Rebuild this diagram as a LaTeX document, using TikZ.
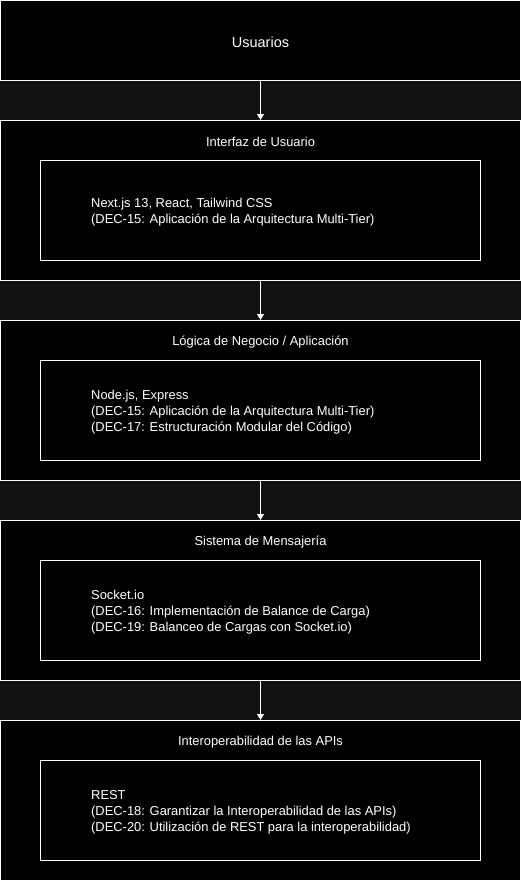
\documentclass[tikz,border=0pt]{standalone}
\usepackage{fontspec}
\setmainfont{Liberation Sans}
\usetikzlibrary{arrows.meta}
\definecolor{fundo}{HTML}{121212}

\begin{document}
\begin{tikzpicture}[x=1pt, y=-1pt,
  camada/.style={draw=white, fill=black, line width=1pt, minimum width=520pt, inner sep=0pt},
  caixa/.style={draw=white, fill=black, line width=1pt, minimum width=440pt, minimum height=100pt, inner sep=0pt},
  titulo/.style={text=white, inner sep=0pt, font=\fontsize{12.9}{16}\selectfont},
  texto/.style={text=white, inner sep=0pt, anchor=west, align=left, font=\fontsize{12.9}{16}\selectfont},
  seta/.style={draw=white, line width=1pt, -{Triangle[width=7pt,length=6pt]}}]
  \fill[fundo] (0,0) rectangle (521,881);
  \useasboundingbox (0,0) rectangle (521,881);
  % camadas
  \node[camada, minimum height=80pt] (usr) at (260.5,40.5) {};
  \node[titulo, font=\fontsize{14.5}{16}\selectfont] (usrt) at (260.5,42) {Usuarios};
  \node[camada, minimum height=160pt] (ui) at (260.5,200.5) {};
  \node[camada, minimum height=160pt] (neg) at (260.5,400.5) {};
  \node[camada, minimum height=160pt] (msg) at (260.5,600.5) {};
  \node[camada, minimum height=160pt] (api) at (260.5,800.5) {};
  % titulos
  \node[titulo] (uit) at (260.5,142) {Interfaz de Usuario};
  \node[titulo] (negt) at (260.5,342) {Lógica de Negocio / Aplicación};
  \node[titulo] (msgt) at (260.5,542) {Sistema de Mensajería};
  \node[titulo] (apit) at (260.5,742) {Interoperabilidad de las APIs};
  % caixas internas
  \node[caixa] (uic) at (260.5,210.5) {};
  \node[caixa] (negc) at (260.5,410.5) {};
  \node[caixa] (msgc) at (260.5,610.5) {};
  \node[caixa] (apic) at (260.5,810.5) {};
  % textos
  \node[texto] (uix) at (91,212) {Next.js 13, React, Tailwind CSS\\(DEC-15: Aplicación de la Arquitectura Multi-Tier)};
  \node[texto] (negx) at (91,412) {Node.js, Express\\(DEC-15: Aplicación de la Arquitectura Multi-Tier)\\(DEC-17: Estructuración Modular del Código)};
  \node[texto] (msgx) at (91,612) {Socket.io\\(DEC-16: Implementación de Balance de Carga)\\(DEC-19: Balanceo de Cargas con Socket.io)};
  \node[texto] (apix) at (91,812) {REST\\(DEC-18: Garantizar la Interoperabilidad de las APIs)\\(DEC-20: Utilización de REST para la interoperabilidad)};
  % setas
  \foreach \a/\b in {usr/ui, ui/neg, neg/msg, msg/api}
    \draw[seta] (\a.south) -- (\b.north);
\end{tikzpicture}
\end{document}
